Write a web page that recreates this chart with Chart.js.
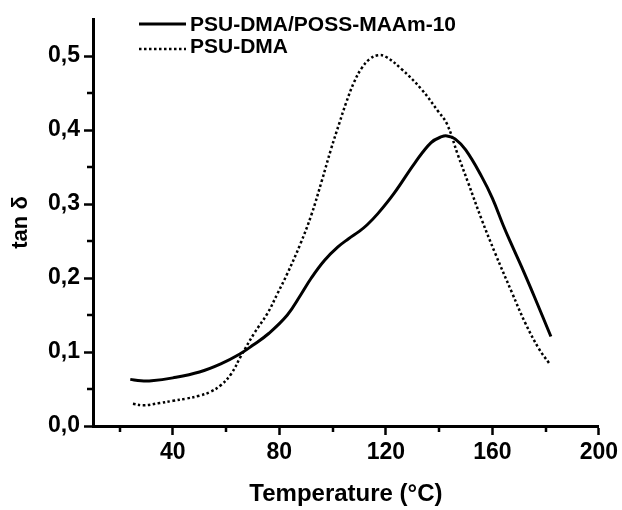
<!DOCTYPE html>
<html>
<head>
<meta charset="utf-8">
<script src="https://cdn.jsdelivr.net/npm/chart.js@4"></script>
<style>
  html, body { margin: 0; padding: 0; background: #fff; }
  #wrap { width: 622px; height: 510px; }
</style>
</head>
<body>
<div id="wrap"><canvas id="myChart" width="622" height="510"></canvas></div>
<script>
'use strict';
// series labels
const seriesNames = ['PSU-DMA/POSS-MAAm-10', 'PSU-DMA'];

// PSU-DMA/POSS-MAAm-10 (solid)
const possTemp = [24, 28, 32, 40, 50, 58, 65, 70, 76, 83, 88, 92, 97, 102, 106, 110, 113, 117, 123, 131, 137, 141, 143, 146, 150, 156, 160, 164, 167, 171, 176, 182];
const possTan = [0.063, 0.061, 0.061, 0.065, 0.073, 0.084, 0.097, 0.109, 0.125, 0.15, 0.177, 0.2, 0.224, 0.242, 0.253, 0.263, 0.272, 0.287, 0.314, 0.356, 0.383, 0.391, 0.392, 0.388, 0.373, 0.337, 0.308, 0.272, 0.247, 0.215, 0.173, 0.121];

// PSU-DMA (dotted)
const psuTemp = [25, 29, 35, 40, 45, 50, 54, 58, 62, 65.5, 70.5, 75.5, 79.3, 83, 88, 92, 96, 99.4, 102.6, 105, 108, 111, 114, 117, 120, 126, 133.4, 139.7, 143, 147, 151, 156, 161, 167.4, 172.4, 177.4, 181.3];
const psuTan = [0.03, 0.028, 0.031, 0.034, 0.037, 0.041, 0.046, 0.055, 0.071, 0.094, 0.125, 0.152, 0.179, 0.206, 0.247, 0.285, 0.332, 0.374, 0.41, 0.436, 0.464, 0.484, 0.496, 0.501, 0.499, 0.482, 0.455, 0.425, 0.408, 0.367, 0.328, 0.279, 0.234, 0.18, 0.139, 0.105, 0.085];

// ticks (major ones get a label)
const xTicks = [20, 40, 60, 80, 100, 120, 140, 160, 180, 200];
const xMajor = [40, 80, 120, 160, 200];
const yTicks = [0, 0.05, 0.1, 0.15, 0.2, 0.25, 0.3, 0.35, 0.4, 0.45, 0.5];
const yMajor = [0, 0.1, 0.2, 0.3, 0.4, 0.5];

const FONT = "'Liberation Sans', Arial, Helvetica, sans-serif";

const isMajor = (list, v) => list.some(m => Math.abs(m - v) < 1e-6);
const toPoints = (xs, ys) => xs.map((x, i) => ({ x: x, y: ys[i] }));

// short minor tick marks, drawn through the scales
const minorTicks = {
  id: 'minorTicks',
  afterDraw(chart) {
    const c = chart.ctx;
    const xs = chart.scales.x;
    const ys = chart.scales.y;
    c.save();
    c.strokeStyle = '#000';
    c.lineWidth = 2.5;
    c.beginPath();
    xTicks.filter(v => !isMajor(xMajor, v)).forEach(v => {
      const px = Math.round(xs.getPixelForValue(v));
      c.moveTo(px, ys.bottom);
      c.lineTo(px, ys.bottom + 6);
    });
    yTicks.filter(v => !isMajor(yMajor, v)).forEach(v => {
      const py = Math.round(ys.getPixelForValue(v));
      c.moveTo(xs.left, py);
      c.lineTo(xs.left - 6, py);
    });
    c.stroke();
    c.restore();
  },
};

// legend in the top left corner
const cornerLegend = {
  id: 'cornerLegend',
  afterDraw(chart) {
    const c = chart.ctx;
    c.save();
    c.font = 'bold 21px ' + FONT;
    c.fillStyle = '#000';
    c.textBaseline = 'middle';
    const rows = [25, 47];
    chart.data.datasets.forEach((ds, i) => {
      const y = rows[i];
      c.strokeStyle = ds.borderColor;
      c.lineWidth = ds.borderWidth;
      c.setLineDash(ds.borderDash || []);
      c.beginPath();
      c.moveTo(139, i === 0 ? y - 1 : y + 2);
      c.lineTo(186, i === 0 ? y - 1 : y + 2);
      c.stroke();
      c.setLineDash([]);
      c.fillText(ds.label, 190, y);
    });
    c.restore();
  },
};

const data = {
  datasets: [
    {
      label: seriesNames[0],
      data: toPoints(possTemp, possTan),
      borderColor: '#000',
      borderWidth: 3,
      pointRadius: 0,
      tension: 0.4,
    },
    {
      label: seriesNames[1],
      data: toPoints(psuTemp, psuTan),
      borderColor: '#000',
      borderWidth: 2.5,
      borderDash: [2.5, 2.5],
      pointRadius: 0,
      tension: 0.4,
    },
  ],
};

const config = {
  type: 'line',
  data: data,
  plugins: [minorTicks, cornerLegend],
  options: {
    responsive: false,
    animation: false,
    layout: {
      padding: { top: 19, right: 23, left: 0, bottom: 0 },
    },
    plugins: {
      legend: { display: false },
      tooltip: { enabled: false },
    },
    scales: {
      x: {
        type: 'linear',
        min: 10,
        max: 200,
        afterFit: s => { s.height = 84; },
        afterBuildTicks: s => { s.ticks = xTicks.map(v => ({ value: v })); },
        border: { color: '#000', width: 3 },
        grid: {
          drawOnChartArea: false,
          tickLength: 9,
          tickWidth: 2.5,
          tickColor: ctx => (ctx.tick && isMajor(xMajor, ctx.tick.value) ? '#000' : 'rgba(0,0,0,0)'),
        },
        ticks: {
          color: '#000',
          padding: 4,
          maxRotation: 0,
          autoSkip: false,
          font: { family: FONT, size: 23, weight: 'bold' },
          callback: v => (isMajor(xMajor, v) ? String(v) : ''),
        },
        title: {
          display: true,
          text: 'Temperature (°C)',
          color: '#000',
          font: { family: FONT, size: 24, weight: 'bold', lineHeight: 1.2 },
          padding: { top: 0, bottom: 1 },
        },
      },
      y: {
        min: 0,
        max: 0.55,
        afterFit: s => { s.width = 93; },
        afterBuildTicks: s => { s.ticks = yTicks.map(v => ({ value: v })); },
        border: { color: '#000', width: 3 },
        grid: {
          drawOnChartArea: false,
          tickLength: 9,
          tickWidth: 2.5,
          tickColor: ctx => (ctx.tick && isMajor(yMajor, ctx.tick.value) ? '#000' : 'rgba(0,0,0,0)'),
        },
        ticks: {
          color: '#000',
          padding: 4,
          autoSkip: false,
          font: { family: FONT, size: 23, weight: 'bold' },
          callback: v => (isMajor(yMajor, v) ? v.toFixed(1).replace('.', ',') : ''),
        },
        title: {
          display: true,
          text: 'tan δ',
          color: '#000',
          font: { family: FONT, size: 22, weight: 'bold', lineHeight: 1.2 },
          padding: { top: 8, bottom: 0 },
        },
      },
    },
  },
};

const myChart = new Chart(document.getElementById('myChart'), config);
</script>
</body>
</html>
